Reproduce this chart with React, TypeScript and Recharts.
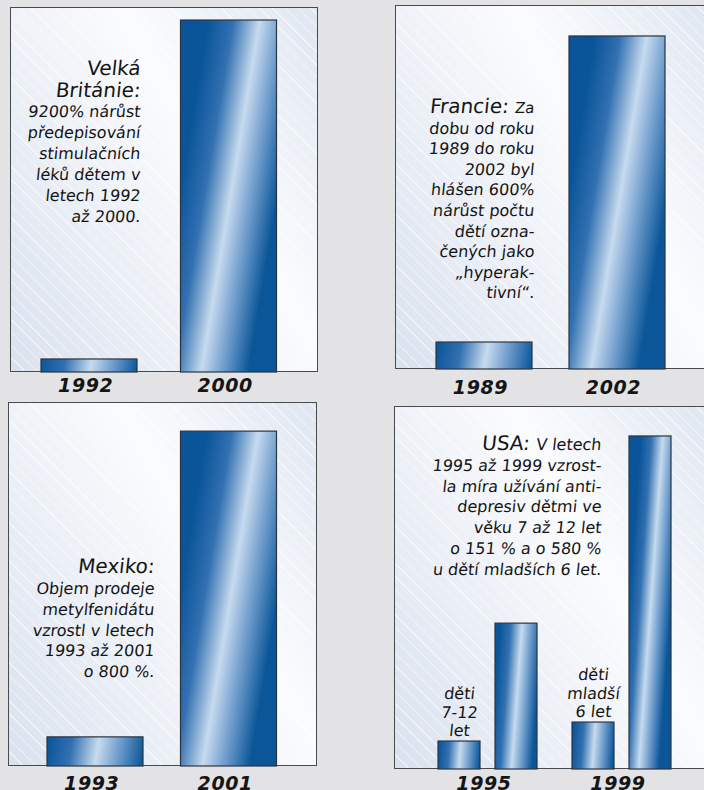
import React from 'react';
import { BarChart, Bar, XAxis, YAxis, LabelList } from 'recharts';

// Velká Británie
const ukYears = ['1992', '2000'];
const ukValues = [3.7, 100];
// Francie
const frYears = ['1989', '2002'];
const frValues = [8.1, 100];
// Mexiko
const mxYears = ['1993', '2001'];
const mxValues = [8.7, 100];
// USA (první a druhý sloupec ve skupině)
const usYears = ['1995', '1999'];
const usFirst = [8.4, 14.1];
const usSecond = [43.8, 100];
const usFirstLabels = [
  ['děti', '7-12', 'let'],
  ['děti', 'mladší', '6 let'],
];

const ukText = ['9200% nárůst', 'předepisování', 'stimulačních', 'léků dětem v', 'letech 1992', 'až 2000.'];
const frText = ['dobu od roku', '1989 do roku', '2002 byl', 'hlášen 600%', 'nárůst počtu', 'dětí ozna-', 'čených jako', '„hyperak-', 'tivní“.'];
const mxText = ['Objem prodeje', 'metylfenidátu', 'vzrostl v letech', '1993 až 2001', 'o 800 %.'];
const usText = ['1995 až 1999 vzrost-', 'la míra užívání anti-', 'depresiv dětmi ve', 'věku 7 až 12 let', 'o 151 % a o 580 %', 'u dětí mladších 6 let.'];

const FONT = '"DejaVu Sans", sans-serif';
const INK = '#151515';
const SLANT = -6;

function GradBar(props: any) {
  const { x, y, width, height, gid } = props;
  if (!width || height == null) return null;
  const s = 0.167 * (width / 96);
  const cx = x + width / 2;
  const cy = y + height / 2;
  return (
    <g>
      <defs>
        <linearGradient
          id={gid}
          gradientUnits="userSpaceOnUse"
          x1={cx - width / 2}
          y1={cy - (s * width) / 2}
          x2={cx + width / 2}
          y2={cy + (s * width) / 2}
        >
          <stop offset="0" stopColor="#0a5599" />
          <stop offset="0.25" stopColor="#3270b1" />
          <stop offset="0.52" stopColor="#c6dbee" />
          <stop offset="0.74" stopColor="#6f9dcd" />
          <stop offset="1" stopColor="#0b5698" />
        </linearGradient>
      </defs>
      <rect x={x} y={y} width={width} height={height} fill={`url(#${gid})`} stroke="#2c3440" strokeWidth={1.2} />
    </g>
  );
}

function YearTick(props: any) {
  const { x, y, payload, dy } = props;
  return (
    <text
      x={x - 3}
      y={y + dy}
      textAnchor="middle"
      fontFamily={FONT}
      fontWeight="bold"
      fontStyle="italic"
      fontSize={19}
      letterSpacing={0.6}
      fill={INK}
    >
      {payload.value}
    </text>
  );
}

interface PanelProps {
  left: number;
  top: number;
  width: number;
  height: number;
  maxY: number;
  pad: { left: number; right: number };
  tickDy: number;
  data: any[];
  children: React.ReactNode;
}

function Panel({ left, top, width, height, maxY, pad, tickDy, data, children }: PanelProps) {
  return (
    <div style={{ position: 'absolute', left, top, width, height: height + 30 }}>
      <div
        style={{
          position: 'absolute',
          left: 0,
          top: 0,
          width,
          height,
          boxSizing: 'border-box',
          border: '1.5px solid #474a4f',
          background:
            'repeating-linear-gradient(45deg, rgba(255,255,255,0.55) 0px, rgba(255,255,255,0.55) 1px, rgba(255,255,255,0) 1px, rgba(255,255,255,0) 9px), linear-gradient(60deg, #dae2ef 0%, #f4f6fa 50%, #fbfcfe 62%, #dfe6f1 100%)',
        }}
      />
      <BarChart
        width={width}
        height={height + 30}
        data={data}
        margin={{ top: 0, right: 0, bottom: 0, left: 0 }}
        style={{ position: 'absolute', left: 0, top: 0 }}
        barGap={15}
      >
        <XAxis
          dataKey="year"
          height={30}
          padding={pad}
          axisLine={false}
          tickLine={false}
          tickSize={0}
          tickMargin={0}
          interval={0}
          tick={(p: any) => <YearTick {...p} dy={tickDy} />}
        />
        <YAxis hide domain={[0, maxY]} />
        {children}
      </BarChart>
    </div>
  );
}

function UsLabel(props: any) {
  const { x, y, width, index } = props;
  const lines = usFirstLabels[index] || [];
  const cx = x + width / 2;
  const n = lines.length;
  return (
    <g>
      {lines.map((l, i) => (
        <text
          key={i}
          transform={`translate(${cx},${y - 5 - (n - 1 - i) * 18.5}) skewX(${SLANT})`}
          textAnchor="middle"
          fontFamily={FONT}
          fontSize={16}
          fill={INK}
        >
          {l}
        </text>
      ))}
    </g>
  );
}

function TextBlock({ x, heads, headY, lines, y0, step }: { x: number; heads: React.ReactNode[]; headY: number[]; lines: string[]; y0: number; step: number }) {
  return (
    <g fontFamily={FONT} fill={INK} textAnchor="end">
      {heads.map((h, i) => (
        <text key={'h' + i} transform={`translate(${x},${headY[i]}) skewX(${SLANT})`} fontSize={20}>
          {h}
        </text>
      ))}
      {lines.map((l, i) => (
        <text key={i} transform={`translate(${x},${y0 + i * step}) skewX(${SLANT})`} fontSize={16}>
          {l}
        </text>
      ))}
    </g>
  );
}

export default function App() {
  const ukData = ukYears.map((year, i) => ({ year, value: ukValues[i] }));
  const frData = frYears.map((year, i) => ({ year, value: frValues[i] }));
  const mxData = mxYears.map((year, i) => ({ year, value: mxValues[i] }));
  const usData = usYears.map((year, i) => ({ year, first: usFirst[i], second: usSecond[i] }));

  return (
    <div
      style={{
        position: 'absolute',
        left: 0,
        top: 0,
        width: 704,
        height: 790,
        overflow: 'hidden',
        background: '#e3e3e5',
        fontFamily: FONT,
      }}
    >
      <Panel left={10} top={7} width={308} height={365} maxY={103.7} pad={{ left: 9, right: 20 }} tickDy={20} data={ukData}>
        <Bar dataKey="value" barSize={96} isAnimationActive={false} shape={(p: any) => <GradBar {...p} gid={`uk-${p.index}`} />} />
      </Panel>
      <Panel left={395} top={5} width={317} height={364} maxY={109.3} pad={{ left: 22, right: 29 }} tickDy={25} data={frData}>
        <Bar dataKey="value" barSize={96} isAnimationActive={false} shape={(p: any) => <GradBar {...p} gid={`fr-${p.index}`} />} />
      </Panel>
      <Panel left={8} top={402} width={309} height={364} maxY={108.7} pad={{ left: 20, right: 22 }} tickDy={24} data={mxData}>
        <Bar dataKey="value" barSize={96} isAnimationActive={false} shape={(p: any) => <GradBar {...p} gid={`mx-${p.index}`} />} />
      </Panel>
      <Panel left={394} top={406} width={318} height={363} maxY={109} pad={{ left: 26, right: 24 }} tickDy={21} data={usData}>
        <Bar dataKey="first" barSize={42} isAnimationActive={false} shape={(p: any) => <GradBar {...p} gid={`us-a-${p.index}`} />}>
          <LabelList dataKey="first" content={(p: any) => <UsLabel {...p} />} />
        </Bar>
        <Bar dataKey="second" barSize={42} isAnimationActive={false} shape={(p: any) => <GradBar {...p} gid={`us-b-${p.index}`} />} />
      </Panel>

      <svg width={704} height={790} style={{ position: 'absolute', left: 0, top: 0, pointerEvents: 'none' }}>
        <TextBlock x={140} heads={['Velká', 'Británie:']} headY={[75, 97]} lines={ukText} y0={117} step={21} />
        <TextBlock
          x={534}
          heads={[
            <>
              Francie: <tspan fontSize={15}>Za</tspan>
            </>,
          ]}
          headY={[113]}
          lines={frText}
          y0={133.5}
          step={20.6}
        />
        <TextBlock x={154} heads={['Mexiko:']} headY={[573]} lines={mxText} y0={594} step={20.8} />
        <TextBlock
          x={601}
          heads={[
            <>
              USA: <tspan fontSize={16}>V letech</tspan>
            </>,
          ]}
          headY={[450]}
          lines={usText}
          y0={471}
          step={20.7}
        />
      </svg>
    </div>
  );
}
